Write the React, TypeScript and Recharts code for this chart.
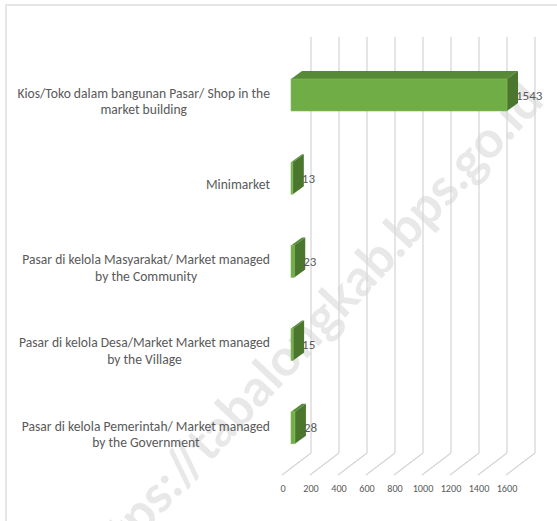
import { BarChart, Bar, XAxis, YAxis, CartesianGrid, LabelList } from "recharts";

const categoryLines = [
  ["Kios/Toko dalam bangunan Pasar/ Shop in the", "market building"],
  ["Minimarket"],
  ["Pasar di kelola Masyarakat/ Market managed", "by the Community"],
  ["Pasar di kelola Desa/Market Market managed", "by the Village"],
  ["Pasar di kelola Pemerintah/ Market managed", "by the Government"],
];
const counts = [1543, 13, 23, 15, 28];
const xTicks = [0, 200, 400, 600, 800, 1000, 1200, 1400, 1600];

const FONT = "Carlito, 'Open Sans', sans-serif";
const TEXT = "#595959";
const DEPTH_X = 11;
const DEPTH_Y = 8;

const data = categoryLines.map((lines, i) => ({ name: lines.join(" "), value: counts[i] }));

let ctx: CanvasRenderingContext2D | null = null;
const textWidth = (s: string, size: number) => {
  if (!ctx) ctx = document.createElement("canvas").getContext("2d");
  if (!ctx) return s.length * size * 0.5;
  ctx.font = `${size}px ${FONT}`;
  return ctx.measureText(s).width;
};

const YTick = (props: any) => {
  const { x, y, payload } = props;
  const lines = categoryLines[payload.index] ?? [payload.value];
  const size = 13.6;
  const lh = 16.5;
  const widest = Math.max(...lines.map((l) => textWidth(l, size)));
  const cx = x - widest / 2;
  const top = y + 7 - ((lines.length - 1) * lh) / 2;
  return (
    <g>
      {lines.map((l, i) => (
        <text
          key={i}
          x={lines.length > 1 ? cx : x}
          y={top + i * lh}
          textAnchor={lines.length > 1 ? "middle" : "end"}
          dominantBaseline="central"
          fontSize={size}
          fontFamily={FONT}
          fill={TEXT}
        >
          {l}
        </text>
      ))}
    </g>
  );
};

const XTick = (props: any) => {
  const { x, y, payload } = props;
  return (
    <text x={x - 8} y={y + 19} textAnchor="middle" dominantBaseline="central" fontSize={10.2} fontFamily={FONT} fill={TEXT}>
      {payload.value}
    </text>
  );
};

const GridLine = (props: any) => {
  const { x1, y1, y2 } = props;
  const bx = x1 + 20;
  return (
    <g key={props.key}>
      <line x1={bx} y1={y1 - 16} x2={bx} y2={y2 - 16} stroke="#d4d4d4" strokeWidth={1.2} />
      <line x1={bx} y1={y2 - 16} x2={x1 - 9} y2={y2 + 6} stroke="#d4d4d4" strokeWidth={1.2} />
    </g>
  );
};

const Bar3D = (props: any) => {
  const { x, y, width, height } = props;
  const r = x + width;
  return (
    <g>
      <polygon
        points={`${x},${y} ${x + DEPTH_X},${y - DEPTH_Y} ${r + DEPTH_X},${y - DEPTH_Y} ${r},${y}`}
        fill="#568a37"
      />
      <polygon
        points={`${r},${y} ${r + DEPTH_X},${y - DEPTH_Y} ${r + DEPTH_X},${y + height - DEPTH_Y} ${r},${y + height}`}
        fill="#4a762d"
      />
      <rect x={x} y={y} width={width} height={height} fill="#70ad47" stroke="#84bd5c" strokeWidth={0.6} />
    </g>
  );
};

const ValueLabel = (props: any) => {
  const { x, y, width, height, value } = props;
  return (
    <text x={x + width + 9} y={y + height / 2} dominantBaseline="central" fontSize={13} fontFamily={FONT} fill={TEXT}>
      {value}
    </text>
  );
};

export default function App() {
  return (
    <div style={{ position: "absolute", left: 0, top: 0, width: 557, height: 521, overflow: "hidden", background: "#fff" }}>
      <div
        style={{
          position: "absolute",
          left: 5,
          top: 4,
          width: 700,
          height: 700,
          borderTop: "2px solid #e6e6e6",
          borderLeft: "2px solid #e6e6e6",
        }}
      />
      <svg width={557} height={521} style={{ position: "absolute", left: 0, top: 0 }}>
        <text
          x={307}
          y={330}
          textAnchor="middle"
          dominantBaseline="central"
          fontSize={51}
          fontWeight="bold"
          fontFamily="Lato, sans-serif"
          fill="#e8e8e8"
          transform="rotate(-47 307 330)"
        >
          https://tabalongkab.bps.go.id
        </text>
      </svg>
      <div style={{ position: "absolute", left: 0, top: 0 }}>
        <BarChart
          layout="vertical"
          width={557}
          height={521}
          data={data}
          margin={{ top: 53, right: 42, bottom: 22, left: 0 }}
        >
          <CartesianGrid horizontal={false} vertical={GridLine} />
          <XAxis
            type="number"
            domain={[0, 1600]}
            ticks={xTicks}
            interval={0}
            height={30}
            axisLine={false}
            tickLine={false}
            tickSize={0}
            tickMargin={0}
            tick={<XTick />}
          />
          <YAxis
            type="category"
            dataKey="name"
            width={291}
            interval={0}
            axisLine={false}
            tickLine={false}
            tickSize={0}
            tickMargin={21}
            tick={<YTick />}
          />
          <Bar dataKey="value" barSize={32} shape={<Bar3D />} isAnimationActive={false}>
            <LabelList dataKey="value" content={<ValueLabel />} />
          </Bar>
        </BarChart>
      </div>
    </div>
  );
}
